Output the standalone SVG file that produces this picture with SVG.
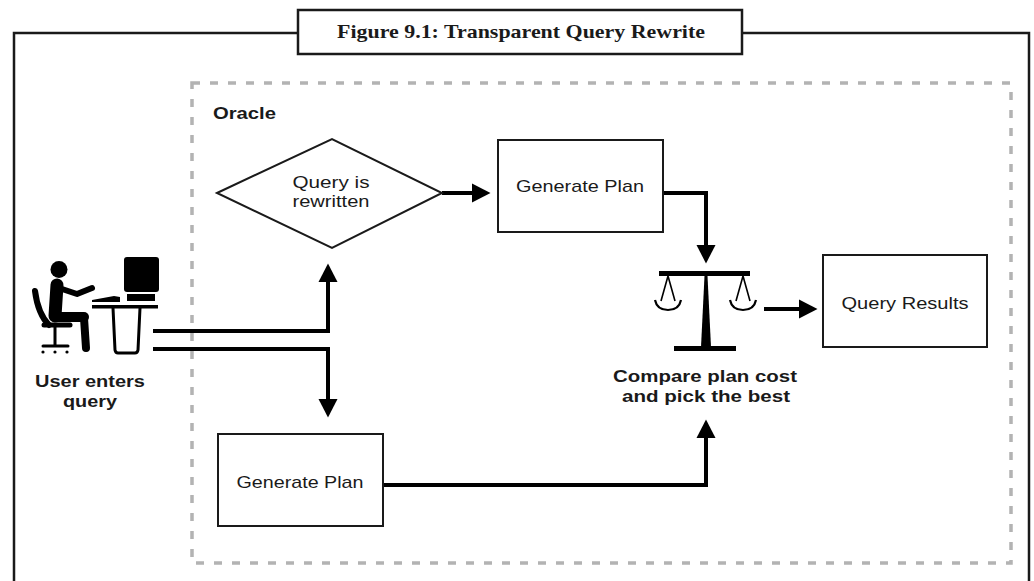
<svg xmlns="http://www.w3.org/2000/svg" width="1034" height="581" viewBox="0 0 1034 581">
  <style>
    .frame { fill: none; stroke: #1a1a1a; stroke-width: 2.5; }
    .zone { fill: none; stroke: #b3b3b3; stroke-width: 3.5; stroke-dasharray: 8 10; }
    .box { fill: #ffffff; stroke: #1a1a1a; stroke-width: 2; }
    .lbl { font-family: "Liberation Sans", Arial, sans-serif; font-size: 17px; fill: #1a1a1a; text-anchor: middle; }
    .bold { font-family: "Liberation Sans", Arial, sans-serif; font-size: 17px; font-weight: bold; fill: #1a1a1a; }
    .title { font-family: "Liberation Serif", "Times New Roman", serif; font-size: 19px; font-weight: bold; fill: #1a1a1a; text-anchor: middle; }
    .conn { fill: none; stroke: #000; stroke-width: 4; stroke-linejoin: miter; marker-end: url(#head); }
    .ink { fill: #000; }
    .limb { fill: none; stroke: #000; stroke-linecap: round; stroke-linejoin: round; }
  </style>
  <defs>
    <marker id="head" markerUnits="userSpaceOnUse" markerWidth="19" markerHeight="20" refX="0" refY="10" orient="auto">
      <path d="M0,0.5 L18.5,10 L0,19.5 z" fill="#000"/>
    </marker>
  </defs>

  <rect width="1034" height="581" fill="#ffffff"/>

  <!-- figure frame with caption -->
  <g id="frame">
    <path class="frame" d="M14,581 V33 H298 M742,33 H1029 V581"/>
    <rect class="frame" x="298" y="10" width="444" height="44" fill="#fff"/>
    <text class="title" x="521" y="38" textLength="368" lengthAdjust="spacingAndGlyphs">Figure 9.1: Transparent Query Rewrite</text>
  </g>

  <!-- Oracle boundary -->
  <g id="oracle">
    <rect class="zone" x="192" y="83" width="819" height="480"/>
    <text class="bold" x="213" y="119" textLength="63" lengthAdjust="spacingAndGlyphs">Oracle</text>
  </g>

  <!-- connectors -->
  <g id="connectors">
    <path class="conn" d="M442,193 H472"/>
    <path class="conn" d="M663,193 H706 V245"/>
    <path class="conn" d="M153,331 H328 V282"/>
    <path class="conn" d="M153,349 H328 V399"/>
    <path class="conn" d="M383,485 H706 V438"/>
    <path class="conn" d="M764,309 H799"/>
  </g>

  <!-- user at workstation -->
  <g id="user">
    <circle class="ink" cx="59" cy="269.5" r="8.5"/>
    <path class="limb" d="M57,285 L55,316" stroke-width="13"/>
    <path class="limb" d="M55,317 L84,317" stroke-width="10"/>
    <path class="limb" d="M84,318 L86,348" stroke-width="8"/>
    <path class="limb" d="M59,288 L77,294 L92,288" stroke-width="6"/>
    <path class="limb" d="M35,291 Q38,314 49,325" stroke-width="6"/>
    <path class="limb" d="M44,325 L70,325" stroke-width="5"/>
    <path class="limb" d="M55,327 V345" stroke-width="3"/>
    <path class="limb" d="M43,346 L68,346" stroke-width="3"/>
    <circle class="ink" cx="43" cy="352" r="1.6"/>
    <circle class="ink" cx="55" cy="352" r="1.6"/>
    <circle class="ink" cx="67" cy="352" r="1.6"/>
    <rect class="ink" x="124" y="257" width="35" height="35" rx="3"/>
    <rect class="ink" x="127" y="294" width="28" height="7"/>
    <path class="ink" d="M92,300 L114,296 L120,297 L120,302 L92,302 z"/>
    <rect class="ink" x="92" y="305" width="66" height="3.5"/>
    <path class="limb" d="M113,308 L115,350 Q115.5,353 118,353 L135,353 Q137.5,353 138,350 L140,308" stroke-width="3"/>
    <text class="bold" x="90" y="387" text-anchor="middle" textLength="110" lengthAdjust="spacingAndGlyphs">User enters</text>
    <text class="bold" x="90" y="407" text-anchor="middle" textLength="54" lengthAdjust="spacingAndGlyphs">query</text>
  </g>

  <!-- decision: rewrite -->
  <g id="rewrite">
    <path class="box" d="M217,193 L332,139 L442,193 L332,248 z"/>
    <text class="lbl" x="331" y="188" textLength="77" lengthAdjust="spacingAndGlyphs">Query is</text>
    <text class="lbl" x="331" y="207" textLength="77" lengthAdjust="spacingAndGlyphs">rewritten</text>
  </g>

  <!-- plan from rewritten query -->
  <g id="plan-rewritten">
    <rect class="box" x="498" y="140" width="165" height="92"/>
    <text class="lbl" x="580" y="192" textLength="128" lengthAdjust="spacingAndGlyphs">Generate Plan</text>
  </g>

  <!-- plan from original query -->
  <g id="plan-original">
    <rect class="box" x="218" y="434" width="165" height="92"/>
    <text class="lbl" x="300" y="488" textLength="127" lengthAdjust="spacingAndGlyphs">Generate Plan</text>
  </g>

  <!-- cost comparison (balance scale) -->
  <g id="compare">
    <rect class="ink" x="659" y="271" width="91" height="5"/>
    <path class="ink" d="M704.5,276 L707.5,276 L711,347 L701,347 z"/>
    <rect class="ink" x="674" y="346" width="62" height="5"/>
    <g fill="none" stroke="#000" stroke-width="1.6">
      <path d="M661,301 L668,276 L675,301"/>
      <path d="M655,300 Q657,310 668,310 Q679,310 681,300" stroke-width="2.2"/>
      <path d="M736,301 L743,276 L750,301"/>
      <path d="M730,300 Q732,310 743,310 Q754,310 756,300" stroke-width="2.2"/>
    </g>
    <text class="bold" x="705" y="382" text-anchor="middle" textLength="184" lengthAdjust="spacingAndGlyphs">Compare plan cost</text>
    <text class="bold" x="706" y="402" text-anchor="middle" textLength="168" lengthAdjust="spacingAndGlyphs">and pick the best</text>
  </g>

  <!-- output -->
  <g id="results">
    <rect class="box" x="823" y="255" width="164" height="92"/>
    <text class="lbl" x="905" y="309" textLength="127" lengthAdjust="spacingAndGlyphs">Query Results</text>
  </g>
</svg>
